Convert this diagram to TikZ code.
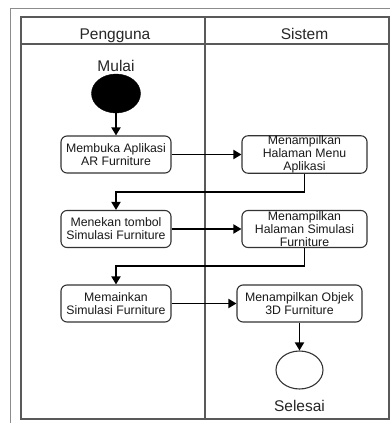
\documentclass[tikz,border=0pt]{standalone}
\usepackage{fontspec}
\setmainfont{Liberation Sans}
\usetikzlibrary{arrows.meta,calc,shapes.geometric}
\begin{document}
\begin{tikzpicture}[x=1pt,y=-1pt,
  outerframe/.style={draw=black!45,line width=1.6pt},
  lane/.style={draw=black!65,line width=1.3pt},
  act/.style={draw=black!80,line width=1.1pt,rounded corners=6pt,
    minimum width=110pt,minimum height=37pt,inner sep=0pt,align=center,
    font=\fontsize{12.3}{13}\selectfont,text=black!90},
  wideact/.style={act,minimum width=125pt},
  flow/.style={draw=black,line width=1.8pt,-{Triangle[length=8pt,width=9pt]}},
  lanetitle/.style={font=\fontsize{15.5}{18}\selectfont,text=black!85,anchor=base,inner sep=0pt},
  startnode/.style={ellipse,fill=black,draw=black,minimum width=49pt,minimum height=39pt,inner sep=0pt},
  endnode/.style={ellipse,fill=white,draw=black!80,line width=1.1pt,minimum width=47pt,minimum height=38pt,inner sep=0pt}]
  \useasboundingbox (0,0) rectangle (390,423);
  \fill[white] (0,0) rectangle (390,423);

  % outer frame and swimlanes
  \draw[outerframe] (10.5,423) -- (10.5,8.5) -- (390,8.5);
  \draw[lane] (21,17) rectangle (389,419);
  \draw[lane] (21,44) -- (389,44);
  \draw[lane] (205,17) -- (205,419);

  % lane headers
  \node[lanetitle] (hUser) at (115,39) {Pengguna};
  \node[lanetitle] (hSys) at (304.5,39) {Sistem};

  % start
  \node[lanetitle] (tStart) at (116,71) {Mulai};
  \node[startnode] (start) at (116,93.5) {};

  % activities
  \node[act] (b1) at (116,154.5) {Membuka Aplikasi\\AR Furniture};
  \node[wideact] (b2) at (304.5,154.5) {Menampilkan\\Halaman Menu\\Aplikasi};
  \node[act] (b3) at (116,229) {Menekan tombol\\Simulasi Furniture};
  \node[wideact] (b4) at (304.5,229) {Menampilkan\\Halaman Simulasi\\Furniture};
  \node[act] (b5) at (116,303.5) {Memainkan\\Simulasi Furniture};
  \node[wideact] (b6) at (299.5,303.5) {Menampilkan Objek\\3D Furniture};

  % end
  \node[endnode] (stop) at (299.5,370) {};
  \node[lanetitle] (tStop) at (299.5,411.5) {Selesai};

  % control flow
  \draw[flow] (start) -- (b1);
  \draw[flow] (b1) -- (b2);
  \draw[flow] (b2.south) |- ($(b2.south)!.5!(b3.north)$) -| (b3.north);
  \draw[flow] (b3) -- (b4);
  \draw[flow] (b4.south) |- ($(b4.south)!.5!(b5.north)$) -| (b5.north);
  \draw[flow] (b5) -- (b6);
  \draw[flow] (b6) -- (stop);
\end{tikzpicture}
\end{document}
